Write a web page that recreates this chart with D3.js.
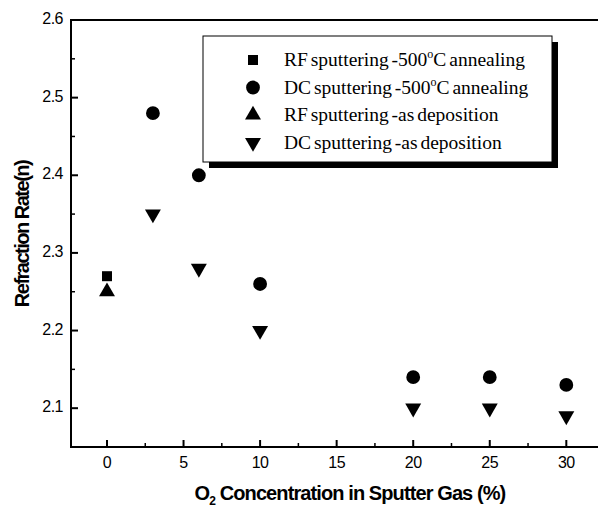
<!DOCTYPE html>
<html>
<head>
<meta charset="utf-8">
<script src="https://cdn.jsdelivr.net/npm/d3@7"></script>
<style>
body { margin: 0; background: #fff; }
svg { display: block; }
</style>
</head>
<body>
<svg></svg>
<script>
// chart data
var rfAnnealX = [0];
var rfAnnealY = [2.27];
var dcAnnealX = [3, 6, 10, 20, 25, 30];
var dcAnnealY = [2.48, 2.40, 2.26, 2.14, 2.14, 2.13];
var rfDepX = [0];
var rfDepY = [2.25];
var dcDepX = [3, 6, 10, 20, 25, 30];
var dcDepY = [2.35, 2.28, 2.20, 2.10, 2.10, 2.09];

var xTicks = [0, 5, 10, 15, 20, 25, 30];
var yTicks = [2.1, 2.2, 2.3, 2.4, 2.5, 2.6];
var legendLabels = ["RF sputtering -500", "DC sputtering -500", "RF sputtering -as deposition", "DC sputtering -as deposition"];

var svgWidth = 598, svgHeight = 509;
var svg = d3.select("svg")
    .attr("width", svgWidth)
    .attr("height", svgHeight);

var pLeft = 71, pTop = 20, pRight = 600, pBottom = 447;

var xScale = d3.scaleLinear().domain([-2.35, 32.2]).range([pLeft, pRight]);
var yScale = d3.scaleLinear().domain([2.05, 2.6]).range([pBottom, pTop]);

// frame lines (left, top, bottom) - right side is cut off in the original
svg.append("path")
    .attr("d", "M" + pRight + "," + pTop + "H" + pLeft + "V" + pBottom + "H" + pRight)
    .attr("fill", "none")
    .attr("stroke", "#000")
    .attr("stroke-width", 2);

// ticks, pointing inward
var xMinor = [-2.5, 2.5, 7.5, 12.5, 17.5, 22.5, 27.5, 32.5].filter(function(v) { return xScale(v) > pLeft + 2; });
var yMinor = [2.15, 2.25, 2.35, 2.45, 2.55];

var g = svg.append("g");
g.selectAll(".xt").data(xTicks).enter().append("line")
    .attr("x1", function(d) { return xScale(d); }).attr("x2", function(d) { return xScale(d); })
    .attr("y1", pBottom).attr("y2", pBottom - 7)
    .attr("stroke", "#000").attr("stroke-width", 2);
g.selectAll(".xm").data(xMinor).enter().append("line")
    .attr("x1", function(d) { return xScale(d); }).attr("x2", function(d) { return xScale(d); })
    .attr("y1", pBottom).attr("y2", pBottom - 4)
    .attr("stroke", "#000").attr("stroke-width", 1.5);
g.selectAll(".yt").data(yTicks).enter().append("line")
    .attr("x1", pLeft).attr("x2", pLeft + 7)
    .attr("y1", function(d) { return yScale(d); }).attr("y2", function(d) { return yScale(d); })
    .attr("stroke", "#000").attr("stroke-width", 2);
g.selectAll(".ym").data(yMinor).enter().append("line")
    .attr("x1", pLeft).attr("x2", pLeft + 4)
    .attr("y1", function(d) { return yScale(d); }).attr("y2", function(d) { return yScale(d); })
    .attr("stroke", "#000").attr("stroke-width", 1.5);

// tick labels
g.selectAll(".xl").data(xTicks).enter().append("text")
    .attr("x", function(d) { return xScale(d); })
    .attr("y", pBottom + 21)
    .attr("text-anchor", "middle")
    .attr("font-family", "Liberation Sans, Arial, sans-serif")
    .attr("font-size", 16)
    .attr("letter-spacing", -0.5)
    .text(function(d) { return d; });
g.selectAll(".yl").data(yTicks).enter().append("text")
    .attr("x", pLeft - 8)
    .attr("y", function(d) { return yScale(d) + 4; })
    .attr("text-anchor", "end")
    .attr("font-family", "Liberation Sans, Arial, sans-serif")
    .attr("font-size", 16)
    .attr("letter-spacing", -0.5)
    .text(function(d) { return d.toFixed(1); });

// axis titles
var xt = svg.append("text")
    .attr("x", 350).attr("y", 500)
    .attr("text-anchor", "middle")
    .attr("font-family", "Liberation Sans, Arial, sans-serif")
    .attr("font-weight", "bold")
    .attr("font-size", 20)
    .attr("letter-spacing", -0.9);
xt.append("tspan").text("O");
xt.append("tspan").attr("font-size", 12).attr("dy", 5).text("2");
xt.append("tspan").attr("dy", -5).text(" Concentration in Sputter Gas (%)");

svg.append("text")
    .attr("transform", "translate(29,234) rotate(-90)")
    .attr("text-anchor", "middle")
    .attr("font-family", "Liberation Sans, Arial, sans-serif")
    .attr("font-weight", "bold")
    .attr("font-size", 20)
    .attr("letter-spacing", -1.5)
    .text("Refraction Rate(n)");

// markers
var sq = d3.symbol().type(d3.symbolSquare).size(100);
var circ = d3.symbol().type(d3.symbolCircle).size(150);
var tri = d3.symbol().type(d3.symbolTriangle).size(110);

function drawSeries(xs, ys, sym, rot) {
    svg.append("g").selectAll("path").data(xs).enter().append("path")
        .attr("d", sym)
        .attr("transform", function(d, i) {
            return "translate(" + xScale(d) + "," + yScale(ys[i]) + ") rotate(" + rot + ")";
        })
        .attr("fill", "#000");
}
drawSeries(rfAnnealX, rfAnnealY, sq, 0);
drawSeries(dcAnnealX, dcAnnealY, circ, 0);
drawSeries(rfDepX, rfDepY, tri, 0);
drawSeries(dcDepX, dcDepY, tri, 180);

// legend
var lx = 203, ly = 36, lw = 349, lh = 126;
svg.append("rect").attr("x", lx + 6).attr("y", ly + 6).attr("width", lw).attr("height", lh).attr("fill", "#000");
svg.append("rect").attr("x", lx).attr("y", ly).attr("width", lw).attr("height", lh)
    .attr("fill", "#fff").attr("stroke", "#000").attr("stroke-width", 1);

var legSyms = [[sq, 0], [circ, 0], [tri, 0], [tri, 180]];
legendLabels.forEach(function(lab, i) {
    var yy = ly + 24 + i * 27.5;
    svg.append("path")
        .attr("d", legSyms[i][0])
        .attr("transform", "translate(253," + yy + ") rotate(" + legSyms[i][1] + ")")
        .attr("fill", "#000");
    var t = svg.append("text")
        .attr("x", 284).attr("y", yy + 6)
        .attr("font-family", "Liberation Serif, Times New Roman, serif")
        .attr("font-size", 19.5)
        .attr("letter-spacing", 0)
        .attr("word-spacing", -2)
        .text(lab);
    if (i < 2) {
        t.append("tspan").attr("font-size", 12).attr("dy", -8).text("o");
        t.append("tspan").attr("dy", 8).text("C annealing");
    }
});
</script>
</body>
</html>
